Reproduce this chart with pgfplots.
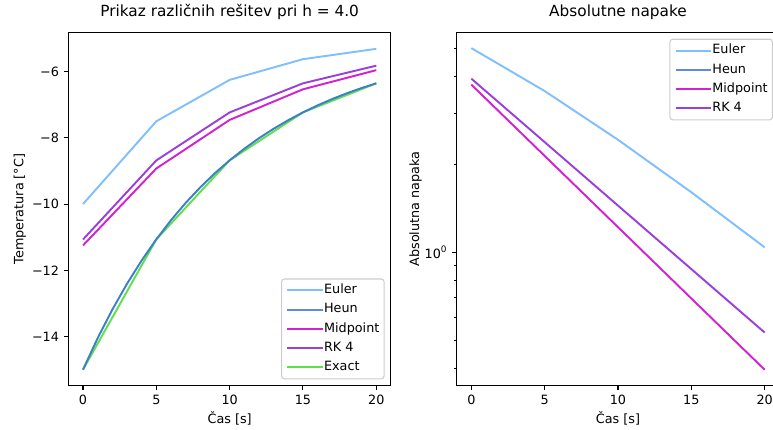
\documentclass[border=0pt]{standalone}
\usepackage{fontspec}
\setmainfont{DejaVu Sans}
\usepackage{pgfplots}
\pgfplotsset{compat=1.18}
\definecolor{ceuler}{HTML}{7FBFFF}
\definecolor{cheun}{HTML}{3B7FCB}
\definecolor{cheunl}{HTML}{5F88E0}
\definecolor{cmid}{HTML}{D022D0}
\definecolor{crk}{HTML}{9A3FDC}
\definecolor{cexact}{HTML}{5FE04A}
\pgfplotsset{
  myaxis/.style={
    scale only axis,
    width=232.3pt, height=254.4pt,
    axis line style={line width=0.74pt},
    tick align=outside,
    tick style={line width=0.74pt, black},
    major tick length=3.2pt,
    minor tick length=1.85pt,
    minor tick style={line width=0.55pt, black},
    xtick pos=bottom, ytick pos=left,
    /pgf/number format/assume math mode=true,
    tick label style={font=\fontsize{9.2}{11}\selectfont},
    label style={font=\fontsize{9.2}{11}\selectfont},
    title style={font=\fontsize{11.04}{13}\selectfont, at={(axis description cs:0.5,1.0208)}, anchor=base, inner sep=0pt},
    xlabel style={at={(axis description cs:0.5,-0.1065)}, anchor=base, inner sep=0pt},
    xmin=-1, xmax=21,
    xtick={0,5,10,15,20},
    xticklabels={0,5,10,15,20},
    xlabel={Čas [s]},
    legend cell align=left,
    legend image code/.code={\draw[#1] (0pt,0pt) -- (18.4pt,0pt); \path (0pt,0pt) -- (25.8pt,0pt);},
    every axis plot/.append style={line width=1.38pt},
  },
  mylegend/.style={
    draw=black!20, line width=0.74pt, rounded corners=2pt,
    fill=white, fill opacity=0.8, text opacity=1,
    font=\fontsize{9.2}{11}\selectfont,
    inner xsep=3.4pt, inner ysep=3.6pt,
    row sep=4.66pt,
    nodes={inner xsep=0pt, inner ysep=0pt, text height=6.9pt, text depth=2.3pt},
  },
}
\begin{document}
\begin{tikzpicture}
\begin{axis}[myaxis,
  at={(49.2pt,31.9pt)}, anchor=south west,
  ymin=-15.485, ymax=-4.815,
  ytick={-14,-12,-10,-8,-6},
  yticklabels={−14,−12,−10,−8,−6},
  ylabel={Temperatura [°C]},
  ylabel style={at={(axis description cs:-0.139,0.5)}, anchor=base, inner sep=0pt},
  title={Prikaz različnih rešitev pri h = 4.0},
  legend style={mylegend, at={(1,0)}, anchor=south east, xshift=-4.6pt, yshift=4.6pt},
]
\addplot[ceuler] coordinates {(0,-10) (5,-7.5) (10,-6.25) (15,-5.625) (20,-5.3125)};
\addlegendentry{Euler}
\addlegendimage{cheunl, line width=1.38pt}
\addlegendentry{Heun}
\addplot[cmid] coordinates {(0,-11.25) (5,-8.926) (10,-7.459) (15,-6.535) (20,-5.956)};
\addlegendentry{Midpoint}
\addplot[crk] coordinates {(0,-11.07) (5,-8.681) (10,-7.233) (15,-6.354) (20,-5.821)};
\addlegendentry{RK 4}
\addplot[cexact] coordinates {(0,-15) (5,-11.0653) (10,-8.6788) (15,-7.2313) (20,-6.3534)};
\addlegendentry{Exact}
\addplot[cheun, forget plot] coordinates {
(0,-15) (1,-14.0484) (2,-13.1873) (3,-12.4082) (4,-11.7032) (5,-11.0653)
(6,-10.4881) (7,-9.9659) (8,-9.4933) (9,-9.0657) (10,-8.6788)
(11,-8.3287) (12,-8.0119) (13,-7.7253) (14,-7.4660) (15,-7.2313)
(16,-7.0190) (17,-6.8268) (18,-6.6530) (19,-6.4957) (20,-6.3534)};
\end{axis}
\begin{axis}[myaxis,
  at={(328.8pt,31.9pt)}, anchor=south west,
  ymode=log,
  ymin=0.35, ymax=5.66,
  ytick={1},
  yticklabels={10\textsuperscript{0}},
  minor ytick={0.4,0.5,0.6,0.7,0.8,0.9,2,3,4,5},
  ylabel={Absolutna napaka},
  ylabel style={at={(axis description cs:-0.1167,0.5)}, anchor=base, inner sep=0pt},
  title={Absolutne napake},
  legend style={mylegend, at={(1,1)}, anchor=north east, xshift=-4.6pt, yshift=-4.6pt},
]
\addplot[ceuler] coordinates {(0,5) (5,3.5653) (10,2.4288) (15,1.6063) (20,1.0409)};
\addlegendentry{Euler}
\addlegendimage{cheunl, line width=1.38pt}
\addlegendentry{Heun}
\addplot[cmid] coordinates {(0,3.75) (5,2.139) (10,1.22) (15,0.696) (20,0.397)};
\addlegendentry{Midpoint}
\addplot[crk] coordinates {(0,3.93) (5,2.384) (10,1.446) (15,0.877) (20,0.532)};
\addlegendentry{RK 4}
\end{axis}
\pgfresetboundingbox
\useasboundingbox (0,0) rectangle (556.56pt,309.6pt);
\end{tikzpicture}
\end{document}
